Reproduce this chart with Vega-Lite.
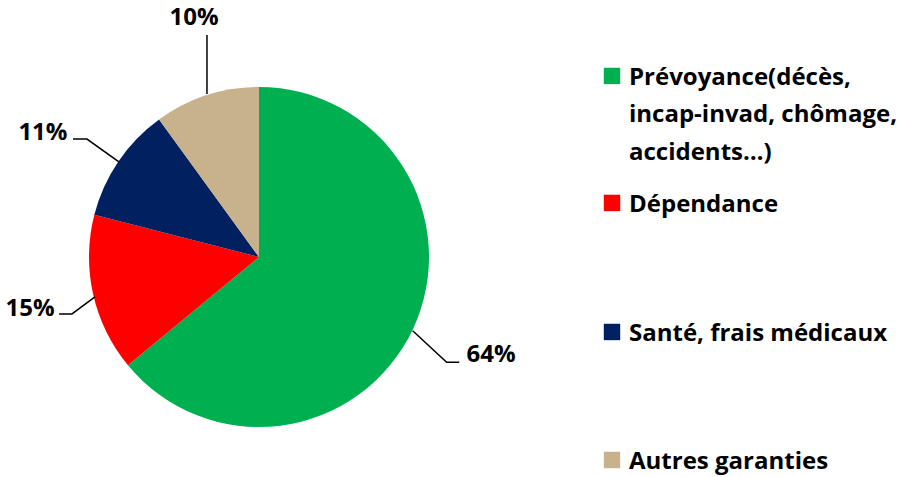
{
  "$schema": "https://vega.github.io/schema/vega-lite/v6.json",
  "width": 906,
  "height": 477,
  "autosize": {"type": "none"},
  "padding": 0,
  "background": "white",
  "config": {"view": {"stroke": null}, "font": "Open Sans"},
  "datasets": {
    "slices": [
      {"cat": "Prévoyance", "pct": 64},
      {"cat": "Dépendance", "pct": 15},
      {"cat": "Santé", "pct": 11},
      {"cat": "Autres", "pct": 10}
    ],
    "labels": [
      {"label": "64%", "x": 1.365, "y": -0.575},
      {"label": "15%", "y": -0.305, "x": -1.347},
      {"label": "11%", "x": -1.271, "y": 0.73},
      {"label": "10%", "x": -0.382, "y": 1.405}
    ],
    "leaders": [
      {"id": "64", "ord": 1, "x": 0.904, "y": -0.434},
      {"id": "64", "ord": 2, "x": 1.104, "y": -0.619},
      {"id": "64", "ord": 3, "x": 1.178, "y": -0.619},
      {"id": "15", "ord": 1, "x": -1.176, "y": -0.335},
      {"id": "15", "ord": 2, "x": -1.1, "y": -0.335},
      {"id": "15", "ord": 3, "x": -0.965, "y": -0.235},
      {"id": "11", "ord": 1, "x": -1.094, "y": 0.694},
      {"id": "11", "ord": 2, "x": -1.012, "y": 0.694},
      {"id": "11", "ord": 3, "x": -0.824, "y": 0.559},
      {"id": "10", "ord": 1, "x": -0.306, "y": 1.306},
      {"id": "10", "ord": 2, "x": -0.306, "y": 0.959}
    ],
    "legend": [
      {"cat": "Prévoyance", "text": "Prévoyance(décès,|incap-invad,  chômage,|accidents…)", "x": 2.0765, "tx": 2.1765, "y": 1.065},
      {"cat": "Dépendance", "text": "Dépendance", "x": 2.0765, "tx": 2.1765, "y": 0.318},
      {"cat": "Santé", "text": "Santé, frais médicaux", "x": 2.0765, "tx": 2.1765, "y": -0.441},
      {"cat": "Autres", "text": "Autres garanties", "x": 2.0765, "tx": 2.1765, "y": -1.194}
    ]
  },
  "layer": [
    {
      "data": {"name": "slices"},
      "mark": {"type": "arc", "outerRadius": 170},
      "encoding": {
        "theta": {"field": "pct", "type": "quantitative", "stack": true},
        "order": {"field": "pct", "type": "quantitative", "sort": "descending"},
        "color": {"field": "cat", "type": "nominal", "legend": null,
          "scale": {"domain": ["Prévoyance", "Dépendance", "Santé", "Autres"], "range": ["#00B050", "#FF0000", "#002060", "#C8B28B"]}},
        "x": {"datum": 0, "type": "quantitative", "axis": null, "scale": {"domain": [-1.5235, 3.8059], "nice": false, "zero": false}},
        "y": {"datum": 0, "type": "quantitative", "axis": null, "scale": {"domain": [-1.2941, 1.5118], "nice": false, "zero": false}}
      }
    },
    {
      "data": {"name": "leaders"},
      "mark": {"type": "line", "color": "black", "strokeWidth": 1.5},
      "encoding": {
        "x": {"field": "x", "type": "quantitative", "axis": null, "scale": {"domain": [-1.5235, 3.8059], "nice": false, "zero": false}},
        "y": {"field": "y", "type": "quantitative", "axis": null, "scale": {"domain": [-1.2941, 1.5118], "nice": false, "zero": false}},
        "detail": {"field": "id", "type": "nominal"},
        "order": {"field": "ord", "type": "quantitative"}
      }
    },
    {
      "data": {"name": "labels"},
      "mark": {"type": "text", "fontSize": 24, "fontWeight": "bold", "align": "center", "baseline": "middle", "color": "black"},
      "encoding": {
        "x": {"field": "x", "type": "quantitative", "axis": null, "scale": {"domain": [-1.5235, 3.8059], "nice": false, "zero": false}},
        "y": {"field": "y", "type": "quantitative", "axis": null, "scale": {"domain": [-1.2941, 1.5118], "nice": false, "zero": false}},
        "text": {"field": "label", "type": "nominal"}
      }
    },
    {
      "data": {"name": "legend"},
      "mark": {"type": "point", "shape": "square", "filled": true, "opacity": 1, "size": 270},
      "encoding": {
        "x": {"field": "x", "type": "quantitative", "axis": null, "scale": {"domain": [-1.5235, 3.8059], "nice": false, "zero": false}},
        "y": {"field": "y", "type": "quantitative", "axis": null, "scale": {"domain": [-1.2941, 1.5118], "nice": false, "zero": false}},
        "color": {"field": "cat", "type": "nominal", "legend": null}
      }
    },
    {
      "data": {"name": "legend"},
      "mark": {"type": "text", "fontSize": 24, "fontWeight": "bold", "align": "left", "baseline": "top", "dy": -10, "lineBreak": "|", "lineHeight": 37.5, "color": "black"},
      "encoding": {
        "x": {"field": "tx", "type": "quantitative", "axis": null, "scale": {"domain": [-1.5235, 3.8059], "nice": false, "zero": false}},
        "y": {"field": "y", "type": "quantitative", "axis": null, "scale": {"domain": [-1.2941, 1.5118], "nice": false, "zero": false}},
        "text": {"field": "text", "type": "nominal"}
      }
    }
  ]
}
